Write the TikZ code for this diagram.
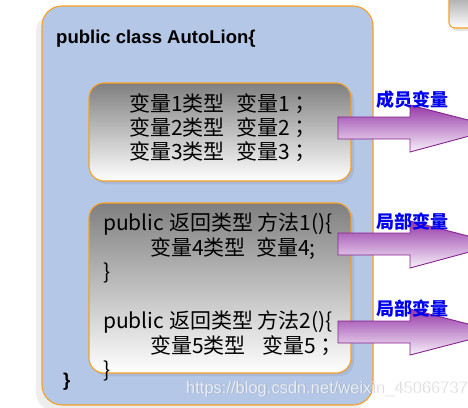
\documentclass[tikz,border=0pt]{standalone}
\usepackage{fontspec}
\setmainfont{Liberation Sans}
\newfontfamily\cjk{Noto Sans CJK SC}
\newfontfamily\cjktc{Noto Sans CJK TC}
\definecolor{orangeb}{RGB}{245,160,35}
\definecolor{bluebg}{RGB}{180,199,231}
\definecolor{bluesh}{RGB}{168,184,214}
\definecolor{arrowline}{RGB}{135,35,145}
\definecolor{arrowtop}{RGB}{150,55,168}
\definecolor{arrowbot}{RGB}{248,242,250}
\definecolor{lblblue}{RGB}{0,0,240}
\newcommand{\fsemi}{{\cjktc ；}}
\begin{document}
\begin{tikzpicture}[x=1pt,y=-1pt,
  outerbox/.style={draw=orangeb, line width=1.1pt, fill=bluebg, rounded corners=20pt},
  innerbox/.style={draw=orangeb, line width=1.1pt, top color=black!50, bottom color=white, rounded corners=15pt},
  innershadow/.style={fill=bluesh, rounded corners=15pt},
  bigarrow/.style={draw=arrowline, line width=0.9pt, top color=arrowtop, bottom color=arrowbot},
  code/.style={font=\cjk\fontsize{21}{24}\selectfont, anchor=base west, inner sep=0pt},
  lbl/.style={font=\cjk\bfseries\fontsize{18}{20}\selectfont, text=lblblue, anchor=base west, inner sep=0pt},
  title/.style={font=\bfseries\fontsize{18.5}{20}\selectfont, anchor=base west, inner sep=0pt},
  wm/.style={font=\fontsize{16.5}{18}\selectfont, anchor=base west, inner sep=0pt}]
\useasboundingbox (0,0) rectangle (468,407);
\clip (0,0) rectangle (468,407);
% top-right partial box
\fill[gray!20, rounded corners=6pt] (452,-20) rectangle (480,31);
\draw[innerbox, rounded corners=6pt] (449,-20) rectangle (480,28);
% outer box with shadow
\fill[gray!13, rounded corners=20pt] (36,12) rectangle (367,412);
\draw[outerbox] (42,6) rectangle (373,405);
\node[title] (t) at (56,43) {public class AutoLion\{};
% inner box 1
\fill[innershadow] (92,86) rectangle (354,184);
\draw[innerbox] (89,83) rectangle (351,181);
\node[code] (a1) at (129,111) {变量1类型};
\node[code] (b1) at (236,111) {变量1\fsemi};
\node[code] (a2) at (129,135) {变量2类型};
\node[code] (b2) at (236,135) {变量2\fsemi};
\node[code] (a3) at (129,159) {变量3类型};
\node[code] (b3) at (236,159) {变量3\fsemi};
% inner box 2
\fill[innershadow] (92,206) rectangle (354,376);
\draw[innerbox] (89,203) rectangle (351,373);
\node[code] (m1) at (103,230) {public 返回类型 方法1()\{};
\node[code] (v4a) at (150,255) {变量4类型};
\node[code] (v4b) at (256,255) {变量4;};
\node[code] (c1) at (103,279) {\}};
\node[code] (m2) at (103,328) {public 返回类型 方法2()\{};
\node[code] (v5a) at (150,353) {变量5类型};
\node[code] (v5b) at (262,353) {变量5\fsemi};
\node[code] (c2) at (103,377) {\}};
\node[title] (tc) at (63,386) {\}};
% arrows
\draw[bigarrow] (338,117) -- (410,117) -- (410,105) -- (499,128) -- (410,152) -- (410,139) -- (338,139) -- cycle;
\draw[bigarrow] (338,233) -- (410,233) -- (410,221) -- (499,244) -- (410,268) -- (410,255) -- (338,255) -- cycle;
\draw[bigarrow] (338,321) -- (410,321) -- (410,309) -- (499,332) -- (410,355) -- (410,343) -- (338,343) -- cycle;
\node[lbl] (l1) at (376,106) {成员变量};
\node[lbl] (l2) at (376,228) {局部变量};
\node[lbl] (l3) at (376,315) {局部变量};
% watermark
\node[wm, text=gray, opacity=0.35] (wms) at (186.8,393.8) {https://blog.csdn.net/weixin\_45066737};
\node[wm, text=white, opacity=0.75] (wmt) at (186,393) {https://blog.csdn.net/weixin\_45066737};
\end{tikzpicture}
\end{document}
